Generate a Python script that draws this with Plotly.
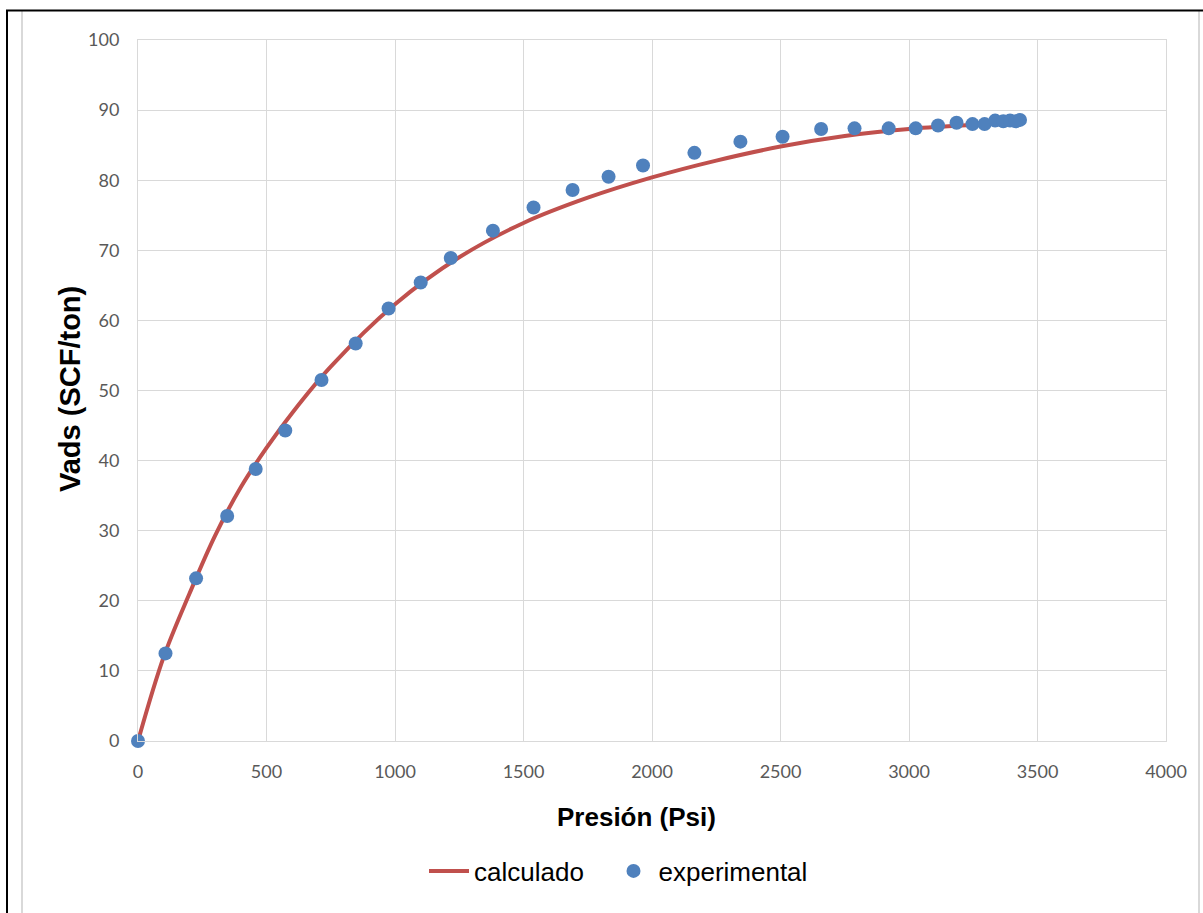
import plotly.graph_objects as go

# ---- data ----
p_calc = [0, 100, 200, 300, 400, 500, 600, 750, 1000, 1250, 1500, 1750, 2000, 2250, 2500,
          2750, 3000, 3250, 3430]
v_calc = [0, 12.0, 21.0, 29.3, 36.2, 41.8, 46.8, 53.4, 62.3, 69.0, 73.9, 77.5, 80.4, 82.8,
          84.8, 86.3, 87.3, 87.9, 88.3]

p_exp = [0, 107, 226, 347, 458, 573, 714, 847, 975, 1100, 1217, 1381, 1539, 1691, 1831,
         1965, 2165, 2344, 2508, 2658, 2788, 2921, 3026, 3113, 3185, 3247, 3294, 3335,
         3367, 3393, 3415, 3432]
v_exp = [0, 12.5, 23.2, 32.1, 38.8, 44.3, 51.5, 56.7, 61.7, 65.4, 68.9, 72.8, 76.1, 78.6,
         80.5, 82.1, 83.9, 85.5, 86.2, 87.3, 87.4, 87.4, 87.4, 87.8, 88.2, 88.0, 88.0, 88.5,
         88.4, 88.5, 88.4, 88.6]

x_ticks = [0, 500, 1000, 1500, 2000, 2500, 3000, 3500, 4000]
y_ticks = [0, 10, 20, 30, 40, 50, 60, 70, 80, 90, 100]

series_names = ["calculado", "experimental"]
x_title = "Presión (Psi)"
y_title = "Vads (SCF/ton)"

# ---- layout geometry (pixels) ----
W, H = 1203, 913
L, R, T, B = 138, 1166, 40, 741
PW, PH = R - L, B - T


def fx(px):
    return (px - L) / PW


def fy(py):
    return (B - py) / PH


RED = "#C0504D"
BLUE = "#4F81BD"
GRID = "#D9D9D9"
TICK = "#595959"

fig = go.Figure()
fig.add_trace(go.Scatter(
    x=p_calc, y=v_calc, mode="lines", name=series_names[0],
    line=dict(color=RED, width=4, shape="spline", smoothing=1.0),
    hoverinfo="skip", cliponaxis=False, legend="legend",
))
fig.add_trace(go.Scatter(
    x=p_exp, y=v_exp, mode="markers", name=series_names[1],
    marker=dict(color=BLUE, size=14, line=dict(width=0)),
    cliponaxis=False, legend="legend2",
))

shapes = [
    dict(type="line", xref="paper", yref="paper", x0=fx(22), x1=fx(22), y0=fy(920), y1=fy(10.5),
         line=dict(color=GRID, width=2)),
    dict(type="line", xref="paper", yref="paper", x0=fx(1199), x1=fx(1199), y0=fy(920), y1=fy(10.5),
         line=dict(color=GRID, width=2)),
    dict(type="line", xref="paper", yref="paper", x0=fx(7), x1=fx(7), y0=fy(920), y1=fy(10.5),
         line=dict(color="black", width=2)),
    dict(type="line", xref="paper", yref="paper", x0=fx(6), x1=fx(1210), y0=fy(10.5), y1=fy(10.5),
         line=dict(color="black", width=2)),
]

annotations = [
    dict(text=x_title, xref="paper", yref="paper", x=fx(636), y=fy(817),
         xanchor="center", yanchor="middle", showarrow=False,
         font=dict(family="Liberation Sans", size=26, color="black", weight="bold")),
    dict(text=y_title, xref="paper", yref="paper", x=fx(70), y=fy(389),
         xanchor="center", yanchor="middle", showarrow=False, textangle=-90,
         font=dict(family="Liberation Sans", size=29, color="black", weight="bold")),
]

legend_font = dict(family="Liberation Sans", size=26, color="black")

fig.update_layout(
    width=W, height=H,
    margin=dict(l=L, r=W - R, t=T, b=H - B),
    paper_bgcolor="white", plot_bgcolor="white",
    shapes=shapes, annotations=annotations,
    showlegend=True,
    legend=dict(orientation="h", x=fx(424), y=fy(871), xanchor="left", yanchor="middle",
                font=legend_font, itemwidth=40, bgcolor="rgba(0,0,0,0)"),
    legend2=dict(orientation="h", x=fx(608.5), y=fy(871), xanchor="left", yanchor="middle",
                 font=legend_font, itemwidth=40, bgcolor="rgba(0,0,0,0)"),
    xaxis=dict(range=[0, 4000], tickvals=x_ticks, ticktext=[str(v) for v in x_ticks],
               showgrid=True, gridcolor=GRID, gridwidth=1,
               showline=True, linecolor=GRID, linewidth=1, mirror=True,
               zeroline=False, ticks="", ticklabelstandoff=14,
               tickfont=dict(family="Lato", size=18, color=TICK)),
    yaxis=dict(range=[0, 100], tickvals=y_ticks, ticktext=[str(v) for v in y_ticks],
               showgrid=True, gridcolor=GRID, gridwidth=1,
               showline=True, linecolor=GRID, linewidth=1, mirror=True,
               zeroline=False, ticks="", ticklabelstandoff=14,
               tickfont=dict(family="Lato", size=18, color=TICK)),
)

fig.write_html("out.html")
